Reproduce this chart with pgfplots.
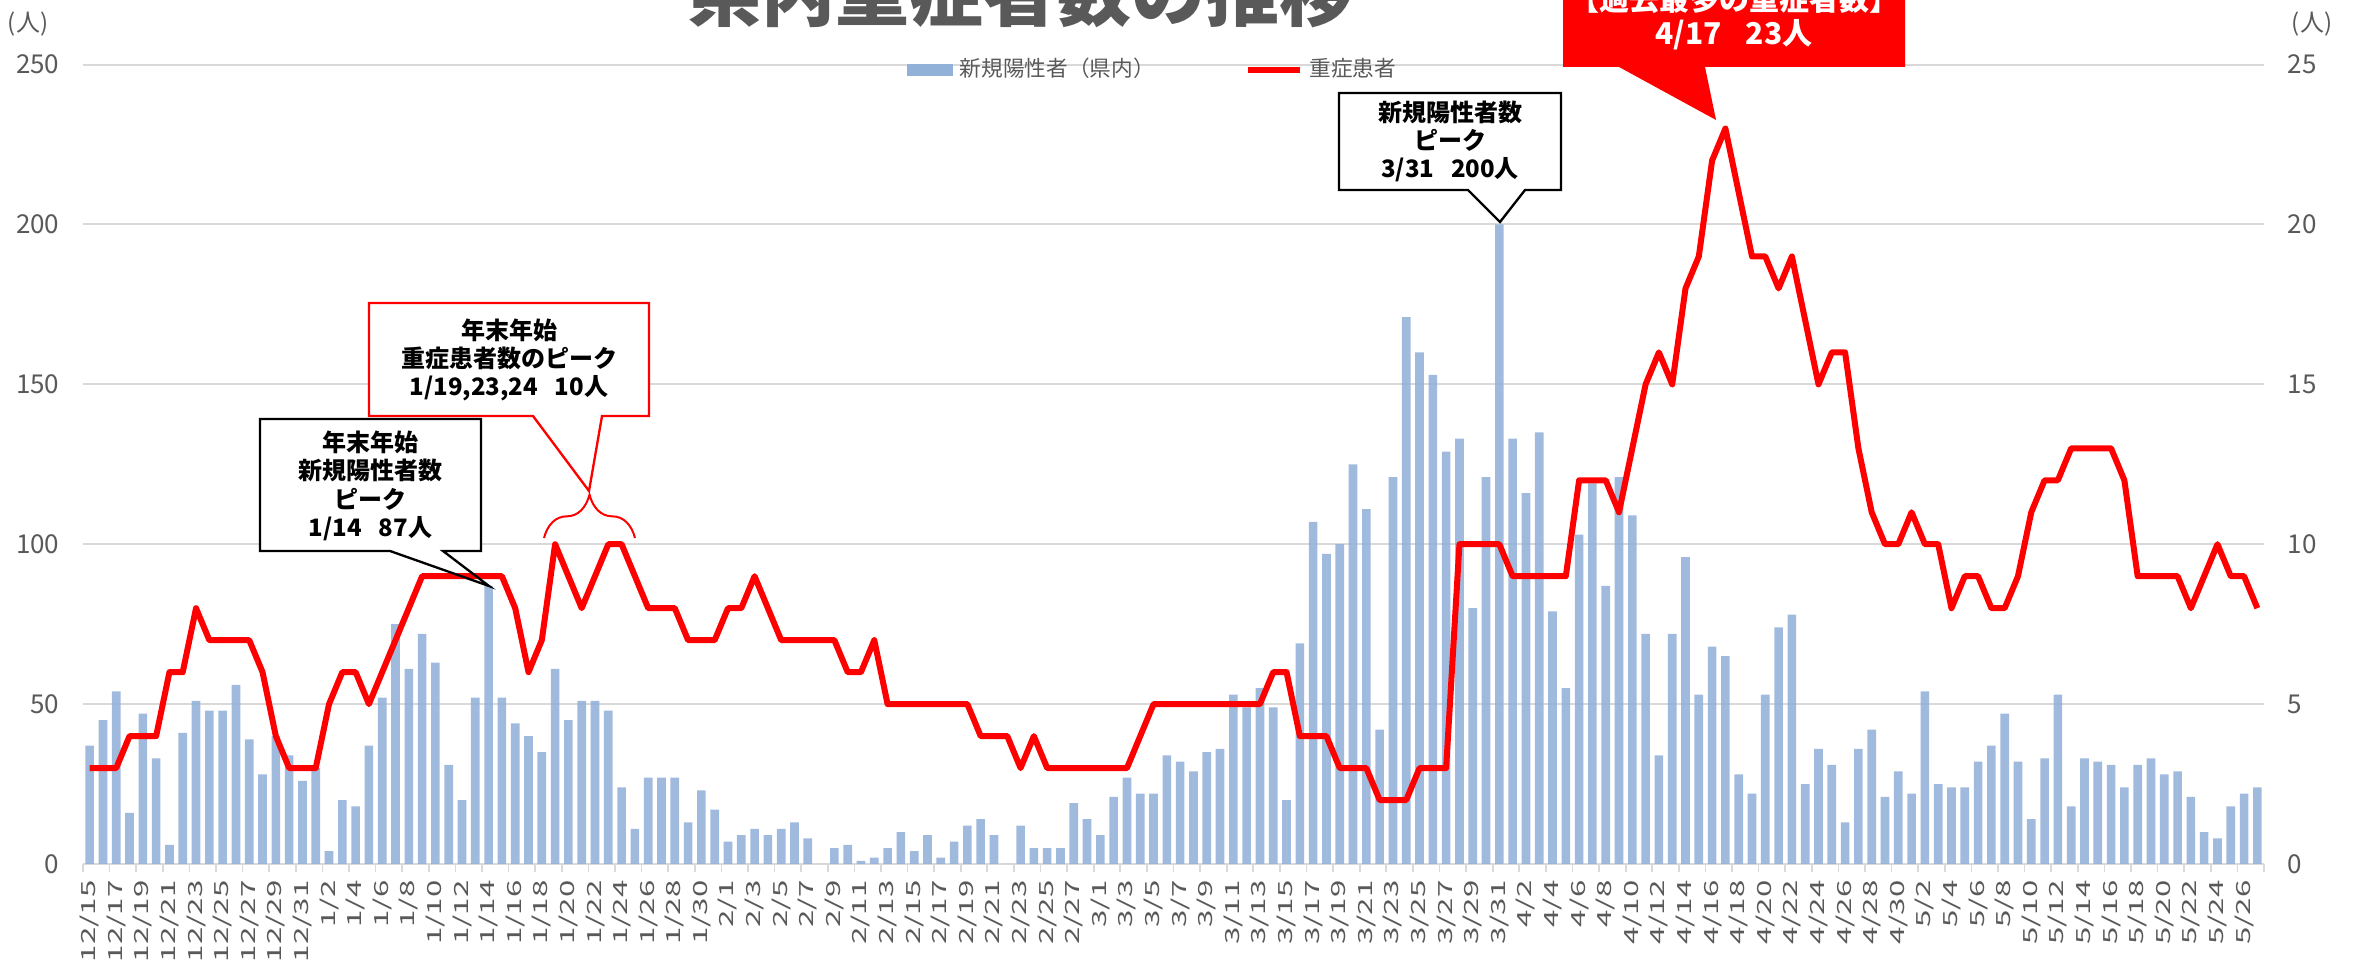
\documentclass[border=0pt]{standalone}
\usepackage{pgfplots}
\pgfplotsset{compat=1.18}
\usepackage{pgfplotstable}
\usepackage{fontspec}
\usetikzlibrary{decorations.pathreplacing}
\setmainfont{Noto Sans CJK JP}
\newfontfamily\jp{Noto Sans CJK JP}
\newfontfamily\datefont[FakeStretch=1.6]{Noto Sans CJK JP}
\definecolor{barblue}{HTML}{92B1D8}
\definecolor{gridgray}{HTML}{D9D9D9}
\definecolor{textgray}{HTML}{595959}

% x = day index (0 = 12/15 ... 163 = 5/27), new = 新規陽性者（県内）, sev = 重症患者
\pgfplotstableread{
x new sev
0 37 3
1 45 3
2 54 3
3 16 4
4 47 4
5 33 4
6 6 6
7 41 6
8 51 8
9 48 7
10 48 7
11 56 7
12 39 7
13 28 6
14 40 4
15 34 3
16 26 3
17 30 3
18 4 5
19 20 6
20 18 6
21 37 5
22 52 6
23 75 7
24 61 8
25 72 9
26 63 9
27 31 9
28 20 9
29 52 9
30 87 9
31 52 9
32 44 8
33 40 6
34 35 7
35 61 10
36 45 9
37 51 8
38 51 9
39 48 10
40 24 10
41 11 9
42 27 8
43 27 8
44 27 8
45 13 7
46 23 7
47 17 7
48 7 8
49 9 8
50 11 9
51 9 8
52 11 7
53 13 7
54 8 7
55 0 7
56 5 7
57 6 6
58 1 6
59 2 7
60 5 5
61 10 5
62 4 5
63 9 5
64 2 5
65 7 5
66 12 5
67 14 4
68 9 4
69 0 4
70 12 3
71 5 4
72 5 3
73 5 3
74 19 3
75 14 3
76 9 3
77 21 3
78 27 3
79 22 4
80 22 5
81 34 5
82 32 5
83 29 5
84 35 5
85 36 5
86 53 5
87 49 5
88 55 5
89 49 6
90 20 6
91 69 4
92 107 4
93 97 4
94 100 3
95 125 3
96 111 3
97 42 2
98 121 2
99 171 2
100 160 3
101 153 3
102 129 3
103 133 10
104 80 10
105 121 10
106 200 10
107 133 9
108 116 9
109 135 9
110 79 9
111 55 9
112 103 12
113 119 12
114 87 12
115 121 11
116 109 13
117 72 15
118 34 16
119 72 15
120 96 18
121 53 19
122 68 22
123 65 23
124 28 21
125 22 19
126 53 19
127 74 18
128 78 19
129 25 17
130 36 15
131 31 16
132 13 16
133 36 13
134 42 11
135 21 10
136 29 10
137 22 11
138 54 10
139 25 10
140 24 8
141 24 9
142 32 9
143 37 8
144 47 8
145 32 9
146 14 11
147 33 12
148 53 12
149 18 13
150 33 13
151 32 13
152 31 13
153 24 12
154 31 9
155 33 9
156 28 9
157 29 9
158 21 8
159 10 9
160 8 10
161 18 9
162 22 9
163 24 8
}\data

\begin{document}
\begin{tikzpicture}
\useasboundingbox (0pt,0pt) rectangle (706.8pt,288.9pt);
\clip (0pt,0pt) rectangle (706.8pt,288.9pt);

\begin{axis}[
  at={(24.9pt,29.7pt)}, anchor=south west,
  scale only axis, width=654.3pt, height=239.82pt,
  xmin=-0.5, xmax=163.5, ymin=0, ymax=250,
  axis x line*=bottom, axis y line*=left,
  y axis line style={draw=none},
  x axis line style={draw=gridgray, line width=0.6pt, -},
  ytick={0,50,...,250},
  ymajorgrids, grid style={gridgray, line width=0.6pt},
  xtick={0,2,...,162},
  xticklabels={12/15,12/17,12/19,12/21,12/23,12/25,12/27,12/29,12/31,1/2,1/4,1/6,1/8,1/10,1/12,1/14,1/16,1/18,1/20,1/22,1/24,1/26,1/28,1/30,2/1,2/3,2/5,2/7,2/9,2/11,2/13,2/15,2/17,2/19,2/21,2/23,2/25,2/27,3/1,3/3,3/5,3/7,3/9,3/11,3/13,3/15,3/17,3/19,3/21,3/23,3/25,3/27,3/29,3/31,4/2,4/4,4/6,4/8,4/10,4/12,4/14,4/16,4/18,4/20,4/22,4/24,4/26,4/28,4/30,5/2,5/4,5/6,5/8,5/10,5/12,5/14,5/16,5/18,5/20,5/22,5/24,5/26},
  minor xtick={-0.5,1.5,...,163.5},
  tick align=outside,
  major tick length=0pt,
  minor tick length=2.4pt,
  minor tick style={draw=gridgray, line width=0.5pt},
  major tick style={draw=none},
  /pgf/number format/assume math mode=true,
  x tick label style={font=\datefont\fontsize{5.85}{6}\selectfont, text=textgray, rotate=90, anchor=east, inner sep=0pt},
  xticklabel shift=4.8pt,
  y tick label style={font=\jp\fontsize{7.8}{8}\selectfont, text=textgray, anchor=east, inner sep=0pt},
  yticklabel shift=6.9pt,
]
\addplot[ybar, bar width=0.65, fill=barblue, fill opacity=0.88, draw=none] table[x=x, y=new] {\data};
\end{axis}

\begin{axis}[
  at={(24.9pt,29.7pt)}, anchor=south west,
  scale only axis, width=654.3pt, height=239.82pt,
  xmin=-0.5, xmax=163.5, ymin=0, ymax=25,
  axis y line*=right, axis x line=none,
  y axis line style={draw=none},
  ytick={0,5,...,25},
  major tick length=0pt,
  major tick style={draw=none},
  /pgf/number format/assume math mode=true,
  y tick label style={font=\jp\fontsize{7.8}{8}\selectfont, text=textgray, anchor=west, inner sep=0pt},
  yticklabel shift=6.9pt,
  legend style={at={(0.4915,0.9932)}, anchor=center, draw=none, fill=none,
    legend columns=2, font=\jp\fontsize{6.5}{7}\selectfont, text=textgray,
    inner sep=0pt, /tikz/every even column/.append style={column sep=25pt}},
]
\addlegendimage{legend image code/.code={\fill[barblue] (0pt,-1.5pt) rectangle (13.5pt,1.5pt);}}
\addlegendentry{新規陽性者（県内）}
\addplot[red, line width=1.8pt, line join=round,
  legend image code/.code={\draw[red, line width=1.8pt] (0pt,0pt) -- (15.6pt,0pt);}]
  table[x=x, y=sev] {\data};
\addlegendentry{重症患者}
\end{axis}

\begin{scope}[x=0.3pt, y=-0.3pt, shift={(0pt,288.9pt)}]
  % title
  \node[anchor=base, text=textgray, font=\jp\bfseries\fontsize{22.2}{24}\selectfont] at (1020,20.5) {県内重症者数の推移};
  % unit labels
  \node[text=textgray, font=\jp\fontsize{7.2}{8}\selectfont] at (28,24) {(人)};
  \node[text=textgray, font=\jp\fontsize{7.2}{8}\selectfont] at (2312,24) {(人)};

  % callout: 1/14 peak
  \fill[white] (260,419) rectangle (481,551);
  \draw[black, line width=0.7pt, line join=miter] (260,419)--(481,419)--(481,551)--(443,551)--(489,586)--(390,551)--(260,551)--cycle;
  \node[align=center, font=\jp\bfseries\fontsize{7.2}{8.5}\selectfont] at (370.5,486) {年末年始\\新規陽性者数\\ピーク\\1/14\hspace{0.7em}87人};

  % callout: severe peak around new year
  \fill[white] (369,303) rectangle (649,416);
  \draw[red, line width=0.7pt] (369,303)--(649,303)--(649,416)--(602,416)--(589,491)--(533,416)--(369,416)--cycle;
  \node[align=center, font=\jp\bfseries\fontsize{7.2}{8.5}\selectfont] at (509,360) {年末年始\\重症患者数のピーク\\1/19,23,24\hspace{0.7em}10人};
  \draw[red, line width=0.6pt, decorate, decoration={brace, amplitude=13pt}] (544,538) -- (635,538);

  % callout: 3/31 peak
  \fill[white] (1339,93) rectangle (1561,190);
  \draw[black, line width=0.7pt] (1339,93)--(1561,93)--(1561,190)--(1525,190)--(1500,222)--(1468,190)--(1339,190)--cycle;
  \node[align=center, font=\jp\bfseries\fontsize{7.2}{8.5}\selectfont] at (1450,141.5) {新規陽性者数\\ピーク\\3/31\hspace{0.7em}200人};

  % callout: record severe
  \fill[red] (1563,-40)--(1905,-40)--(1905,67)--(1705,67)--(1716,120)--(1619,67)--(1563,67)--cycle;
  \node[anchor=base, text=white, font=\jp\bfseries\fontsize{9}{10}\selectfont] at (1734,11) {【過去最多の重症者数】};
  \node[anchor=base, text=white, font=\jp\bfseries\fontsize{9}{10}\selectfont] at (1734,45) {4/17\hspace{0.8em}23人};
\end{scope}
\end{tikzpicture}
\end{document}
